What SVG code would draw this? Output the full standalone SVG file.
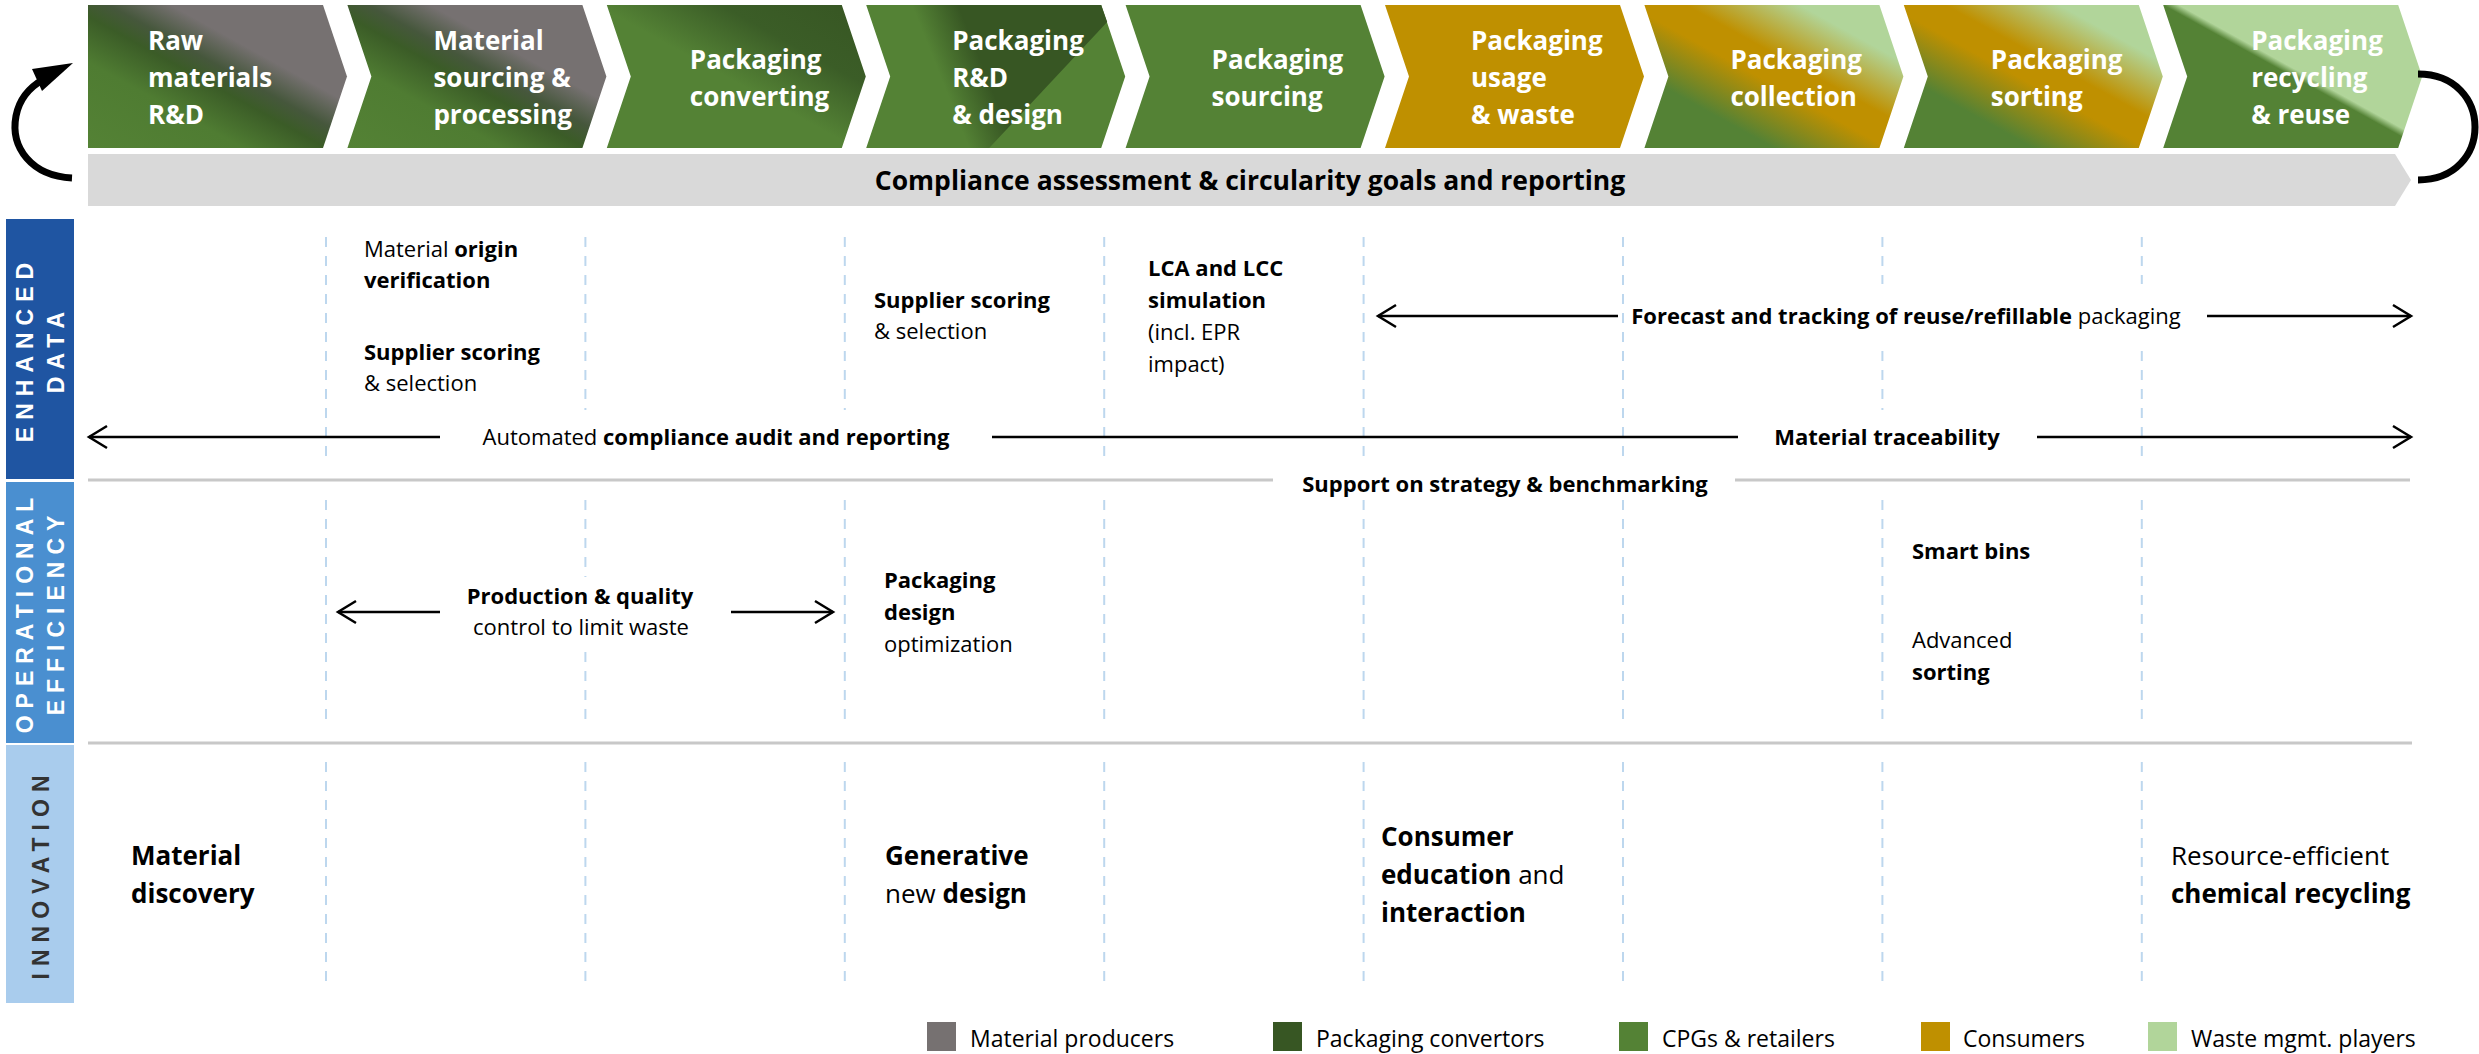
<svg xmlns="http://www.w3.org/2000/svg" width="2479" height="1054" viewBox="0 0 2479 1054">
<defs>
<style>
text{font-family:'Open Sans','Liberation Sans',sans-serif}
.ch{font-size:26px;font-weight:700;fill:#fff}
.t{font-size:22px;fill:#000}
.b{font-weight:700}
.in{font-size:26px}
.lg{font-size:23px;fill:#000}
.lbl{font-family:'Liberation Sans',sans-serif;font-size:23px;font-weight:700;letter-spacing:7px;text-anchor:middle}
.mid{text-anchor:middle}
.dash{stroke:#BDD7EE;stroke-width:2;stroke-dasharray:10 9}
.sep{stroke:#C8C8C8;stroke-width:3}
.ar{stroke:#000;stroke-width:2.5;fill:none}
.loop{stroke:#000;stroke-width:7;fill:none}
</style>
<linearGradient id="gGrey" x1="0" y1="1" x2="1" y2="0">
<stop offset="0" stop-color="#548235"/><stop offset="0.3" stop-color="#4f7c32"/><stop offset="0.46" stop-color="#3b5c27"/><stop offset="0.54" stop-color="#46573c"/><stop offset="0.66" stop-color="#767171"/><stop offset="1" stop-color="#767171"/>
</linearGradient>
<linearGradient id="gConv" x1="0" y1="1" x2="1" y2="0">
<stop offset="0" stop-color="#548235"/><stop offset="0.48" stop-color="#548235"/><stop offset="0.72" stop-color="#3b5d27"/><stop offset="1" stop-color="#375623"/>
</linearGradient>
<linearGradient id="gWedge" gradientUnits="userSpaceOnUse" x1="72" y1="66" x2="112" y2="50">
<stop offset="0" stop-color="#375623" stop-opacity="0"/><stop offset="1" stop-color="#375623" stop-opacity="1"/>
</linearGradient>
<linearGradient id="gColl" x1="0" y1="1" x2="1" y2="0">
<stop offset="0" stop-color="#548235"/><stop offset="0.25" stop-color="#548235"/><stop offset="0.47" stop-color="#BF9000"/><stop offset="0.58" stop-color="#BF9000"/><stop offset="0.8" stop-color="#B1D59A"/><stop offset="1" stop-color="#B1D59A"/>
</linearGradient>
<linearGradient id="gRec" x1="0" y1="1" x2="1" y2="0">
<stop offset="0" stop-color="#548235"/><stop offset="0.5" stop-color="#548235"/><stop offset="0.53" stop-color="#B1D59A"/><stop offset="1" stop-color="#B1D59A"/>
</linearGradient>
<path id="chev" d="M0,0 L235,0 L259,71.5 L235,143 L0,143 L24,71.5 Z"/>
<marker id="ah" markerUnits="userSpaceOnUse" markerWidth="24" markerHeight="26" viewBox="0 0 24 26" refX="21" refY="13" orient="auto">
<path d="M3,2 L21,13 L3,24" fill="none" stroke="#000" stroke-width="2.5"/>
</marker>
</defs>
<rect width="2479" height="1054" fill="#fff"/>

<!-- value chain chevrons -->
<g id="chev1" transform="translate(88,5)">
<path d="M0,0 L235,0 L259,71.5 L235,143 L0,143 Z" fill="url(#gGrey)"/>
<text class="ch" x="60" y="45">Raw</text><text class="ch" x="60" y="82">materials</text><text class="ch" x="60" y="119">R&amp;D</text>
</g>
<g id="chev2" transform="translate(347.4,5)">
<use href="#chev" fill="url(#gGrey)"/>
<text class="ch" x="86" y="45">Material</text><text class="ch" x="86" y="82">sourcing &amp;</text><text class="ch" x="86" y="119">processing</text>
</g>
<g id="chev3" transform="translate(606.8,5)">
<use href="#chev" fill="url(#gConv)"/>
<text class="ch" x="83" y="64">Packaging</text><text class="ch" x="83" y="101">converting</text>
</g>
<g id="chev4" transform="translate(866.2,5)">
<use href="#chev" fill="#548235"/>
<polygon points="20,0 235,0 241,17 123,143 60,143" fill="url(#gWedge)"/>
<text class="ch" x="86" y="45">Packaging</text><text class="ch" x="86" y="82">R&amp;D</text><text class="ch" x="86" y="119">&amp; design</text>
</g>
<g id="chev5" transform="translate(1125.6,5)">
<use href="#chev" fill="#548235"/>
<text class="ch" x="86" y="64">Packaging</text><text class="ch" x="86" y="101">sourcing</text>
</g>
<g id="chev6" transform="translate(1385,5)">
<use href="#chev" fill="#BF9000"/>
<text class="ch" x="86" y="45">Packaging</text><text class="ch" x="86" y="82">usage</text><text class="ch" x="86" y="119">&amp; waste</text>
</g>
<g id="chev7" transform="translate(1644.4,5)">
<use href="#chev" fill="url(#gColl)"/>
<text class="ch" x="86" y="64">Packaging</text><text class="ch" x="86" y="101">collection</text>
</g>
<g id="chev8" transform="translate(1903.8,5)">
<use href="#chev" fill="url(#gColl)"/>
<text class="ch" x="87" y="64">Packaging</text><text class="ch" x="87" y="101">sorting</text>
</g>
<g id="chev9" transform="translate(2163.2,5)">
<use href="#chev" fill="url(#gRec)"/>
<text class="ch" x="88" y="45">Packaging</text><text class="ch" x="88" y="82">recycling</text><text class="ch" x="88" y="119">&amp; reuse</text>
</g>

<g id="compliance-bar">
<polygon points="88,154 2395,154 2411,180 2395,206 88,206" fill="#D9D9D9"/>
<text class="t b mid" x="1250" y="190" style="font-size:26.5px">Compliance assessment &amp; circularity goals and reporting</text>
</g>

<!-- row labels -->
<g id="label-enhanced">
<rect x="6" y="219" width="68" height="260" fill="#1F55A2"/>
<text class="lbl" fill="#fff" transform="translate(33,349) rotate(-90)">ENHANCED</text>
<text class="lbl" fill="#fff" transform="translate(64,349) rotate(-90)">DATA</text>
</g>
<g id="label-operational">
<rect x="6" y="482" width="68" height="261" fill="#4A8FD0"/>
<text class="lbl" fill="#fff" transform="translate(33,612) rotate(-90)">OPERATIONAL</text>
<text class="lbl" fill="#fff" transform="translate(64,612) rotate(-90)">EFFICIENCY</text>
</g>
<g id="label-innovation">
<rect x="6" y="745" width="68" height="258" fill="#A9CCED"/>
<text class="lbl" fill="#333" transform="translate(49,874) rotate(-90)">INNOVATION</text>
</g>

<!-- grid -->
<g id="grid">
<g class="dash">
<path d="M326,237 V462 M585.4,237 V462 M844.8,237 V462 M1104.2,237 V462 M1363.6,237 V462 M1623,237 V462 M1882.4,237 V462 M2141.8,237 V462"/>
<path d="M326,500 V725 M585.4,500 V725 M844.8,500 V725 M1104.2,500 V725 M1363.6,500 V725 M1623,500 V725 M1882.4,500 V725 M2141.8,500 V725"/>
<path d="M326,762 V986 M585.4,762 V986 M844.8,762 V986 M1104.2,762 V986 M1363.6,762 V986 M1623,762 V986 M1882.4,762 V986 M2141.8,762 V986"/>
</g>
<line class="sep" x1="88" y1="480" x2="2410" y2="480"/>
<line class="sep" x1="88" y1="743" x2="2412" y2="743"/>
</g>

<!-- connectors -->
<g id="connectors">
<path class="loop" d="M72,178 C32,176 10,148 16,116 C19,100 28,88 44,79"/>
<polygon points="73,63 32,69 42,91" fill="#000"/>
<path class="loop" d="M2418,74 C2494,74 2494,180 2418,180"/>
<path class="ar" d="M440,437 H89" marker-end="url(#ah)"/>
<path class="ar" d="M992,437 H1738"/>
<path class="ar" d="M2037,437 H2411" marker-end="url(#ah)"/>
<path class="ar" d="M1618,316 H1378" marker-end="url(#ah)"/>
<path class="ar" d="M2207,316 H2411" marker-end="url(#ah)"/>
<path class="ar" d="M440,612 H338" marker-end="url(#ah)"/>
<path class="ar" d="M731,612 H833" marker-end="url(#ah)"/>
</g>

<!-- enhanced data items -->
<g id="t-origin"><text class="t" x="364" y="257">Material <tspan class="b">origin</tspan></text><text class="t b" x="364" y="288">verification</text></g>
<g id="t-supplier1"><text class="t b" x="364" y="360">Supplier scoring</text><text class="t" x="364" y="391">&amp; selection</text></g>
<g id="t-supplier2"><text class="t b" x="874" y="308">Supplier scoring</text><text class="t" x="874" y="339">&amp; selection</text></g>
<g id="t-lca"><text class="t b" x="1148" y="276">LCA and LCC</text><text class="t b" x="1148" y="308">simulation</text><text class="t" x="1148" y="340">(incl. EPR</text><text class="t" x="1148" y="372">impact)</text></g>
<g id="t-forecast"><rect x="1624" y="284" width="576" height="62" fill="#fff"/><text class="t mid" x="1906" y="324"><tspan class="b">Forecast and tracking of reuse/refillable</tspan> packaging</text></g>
<g id="t-audit"><rect x="468" y="410" width="496" height="54" fill="#fff"/><text class="t mid" x="716" y="445">Automated <tspan class="b">compliance audit and reporting</tspan></text></g>
<g id="t-trace"><rect x="1746" y="410" width="284" height="54" fill="#fff"/><text class="t b mid" x="1887" y="445">Material traceability</text></g>
<g id="t-support"><rect x="1273" y="468" width="462" height="32" fill="#fff"/><text class="t b mid" x="1505" y="492">Support on strategy &amp; benchmarking</text></g>

<!-- operational efficiency items -->
<g id="t-production"><rect x="455" y="577" width="260" height="70" fill="#fff"/><text class="t b mid" x="580" y="604">Production &amp; quality</text><text class="t mid" x="581" y="635">control to limit waste</text></g>
<g id="t-pdesign"><text class="t b" x="884" y="588">Packaging</text><text class="t b" x="884" y="620">design</text><text class="t" x="884" y="652">optimization</text></g>
<g id="t-bins"><text class="t b" x="1912" y="559">Smart bins</text></g>
<g id="t-sorting"><text class="t" x="1912" y="648">Advanced</text><text class="t b" x="1912" y="680">sorting</text></g>

<!-- innovation items -->
<g id="t-discovery"><text class="t in b" x="131" y="865">Material</text><text class="t in b" x="131" y="903">discovery</text></g>
<g id="t-generative"><text class="t in b" x="885" y="865">Generative</text><text class="t in" x="885" y="903">new <tspan class="b">design</tspan></text></g>
<g id="t-consumer"><text class="t in b" x="1381" y="846">Consumer</text><text class="t in" x="1381" y="884"><tspan class="b">education</tspan> and</text><text class="t in b" x="1381" y="922">interaction</text></g>
<g id="t-chemical"><text class="t in" x="2171" y="865">Resource-efficient</text><text class="t in b" x="2171" y="903">chemical recycling</text></g>

<!-- legend -->
<g id="legend">
<rect x="927" y="1022" width="29" height="29" fill="#767171"/><text class="lg" x="970" y="1047">Material producers</text>
<rect x="1273" y="1022" width="29" height="29" fill="#375623"/><text class="lg" x="1316" y="1047">Packaging convertors</text>
<rect x="1619" y="1022" width="29" height="29" fill="#548235"/><text class="lg" x="1662" y="1047">CPGs &amp; retailers</text>
<rect x="1921" y="1022" width="29" height="29" fill="#BF9000"/><text class="lg" x="1963" y="1047">Consumers</text>
<rect x="2148" y="1022" width="29" height="29" fill="#B1D59A"/><text class="lg" x="2191" y="1047">Waste mgmt. players</text>
</g>
</svg>
